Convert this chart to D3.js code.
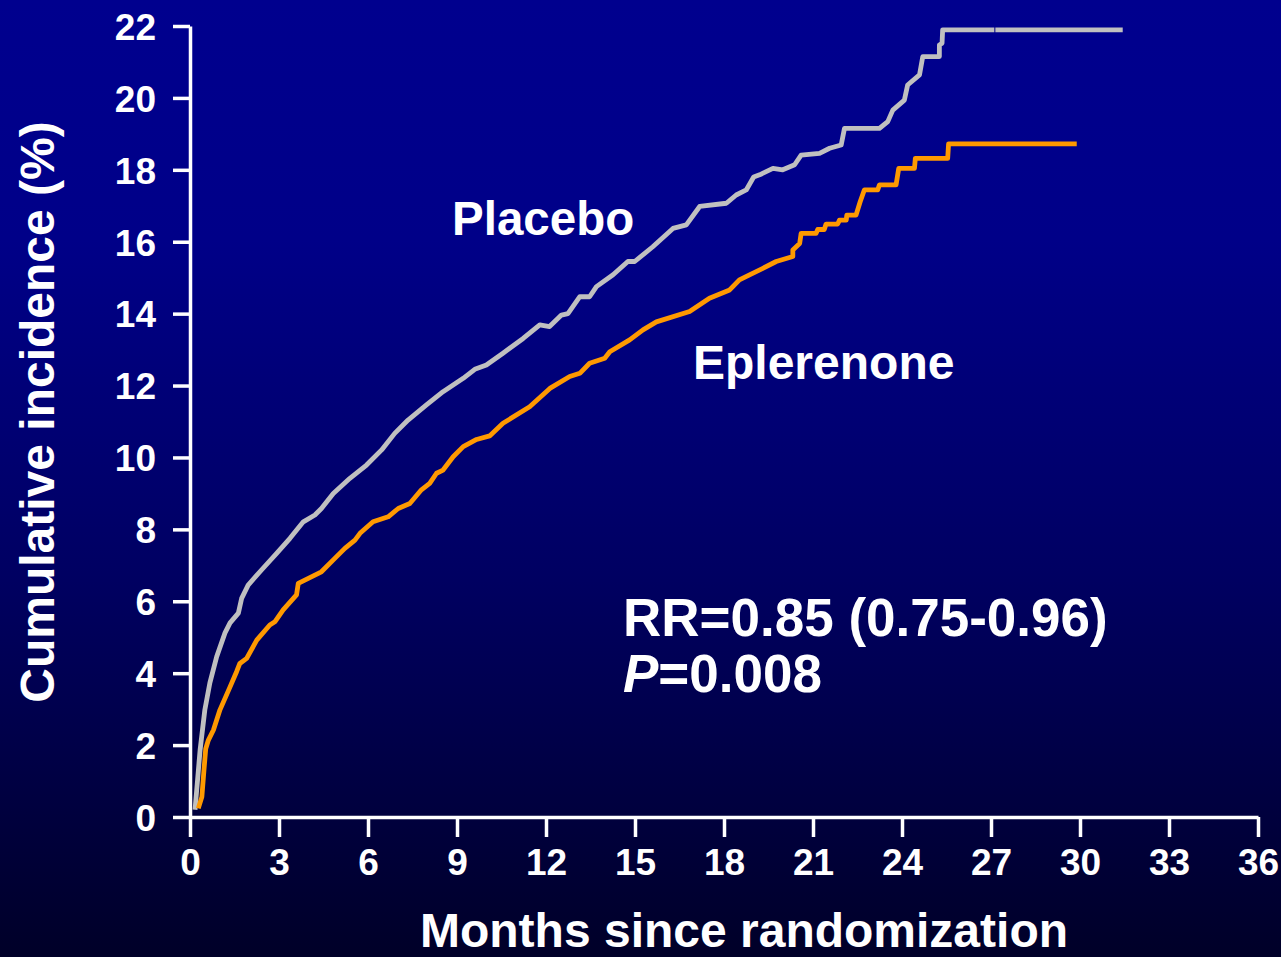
<!DOCTYPE html>
<html>
<head>
<meta charset="utf-8">
<script src="https://cdn.jsdelivr.net/npm/d3@7"></script>
<style>
  html, body { margin: 0; padding: 0; background: #000050; overflow: hidden; }
  svg { display: block; }
  text { font-family: "Liberation Sans", Arial, sans-serif; font-weight: bold; fill: #ffffff; }
</style>
</head>
<body>
<svg id="chart" width="1281" height="957"></svg>
<script>
// ---- Data (months, cumulative incidence %) ----
const placebo = [
  [0.17,0.2],[0.34,1.86],[0.5,2.98],[0.67,3.73],[0.9,4.46],[1.18,5.12],[1.35,5.4],[1.63,5.67],
  [1.74,6.08],[1.96,6.45],[2.41,6.87],[2.92,7.33],[3.37,7.75],[3.82,8.21],[4.21,8.4],[4.43,8.58],
  [4.83,9.0],[5.39,9.42],[5.95,9.79],[6.46,10.21],[6.9,10.67],[7.35,11.04],[7.97,11.46],[8.53,11.83],
  [9.21,12.2],[9.6,12.45],[9.99,12.57],[10.55,12.9],[11.23,13.31],[11.79,13.69],[12.12,13.64],
  [12.52,13.96],[12.74,14.0],[13.14,14.47],[13.47,14.47],[13.7,14.75],[14.26,15.08],[14.76,15.45],
  [14.99,15.45],[15.6,15.86],[16.28,16.37],[16.73,16.47],[17.18,16.98],[18.08,17.07],[18.41,17.3],
  [18.75,17.44],[19.0,17.8],[19.2,17.86],[19.65,18.04],[19.98,18.0],[20.38,18.14],[20.6,18.41],
  [21.22,18.46],[21.56,18.6],[21.95,18.69],[22.06,19.15],[23.24,19.15],[23.52,19.34],[23.69,19.66],
  [24.08,19.94],[24.19,20.36],[24.59,20.64],[24.7,21.15],[25.26,21.15],[25.26,21.47],[25.35,21.52],
  [25.37,21.89],[31.44,21.89]
];
const eplerenone = [
  [0.28,0.24],[0.4,0.56],[0.47,1.3],[0.53,1.9],[0.62,2.14],[0.79,2.42],[1.01,2.98],[1.35,3.62],
  [1.57,4.04],[1.68,4.27],[1.91,4.41],[2.25,4.92],[2.69,5.34],[2.86,5.43],[3.14,5.76],[3.59,6.18],
  [3.65,6.5],[3.87,6.59],[4.43,6.82],[4.83,7.15],[5.22,7.47],[5.56,7.7],[5.73,7.89],[6.17,8.21],
  [6.68,8.35],[7.02,8.58],[7.41,8.72],[7.8,9.1],[8.08,9.28],[8.31,9.56],[8.53,9.65],[8.87,10.02],
  [9.21,10.3],[9.66,10.5],[10.1,10.6],[10.55,10.95],[11.45,11.41],[12.13,11.92],[12.8,12.25],
  [13.14,12.34],[13.47,12.62],[13.98,12.76],[14.15,12.94],[14.82,13.27],[15.27,13.55],[15.72,13.77],
  [16.84,14.06],[17.51,14.43],[18.19,14.66],[18.52,14.94],[18.86,15.08],[19.31,15.26],[19.76,15.45],
  [20.32,15.59],[20.32,15.77],[20.55,15.95],[20.6,16.23],[21.1,16.23],[21.16,16.34],[21.38,16.34],
  [21.44,16.49],[21.83,16.49],[21.89,16.6],[22.12,16.6],[22.14,16.74],[22.45,16.74],[22.59,17.11],
  [22.73,17.44],[23.18,17.44],[23.24,17.58],[23.8,17.58],[23.89,18.04],[24.42,18.04],[24.45,18.32],
  [25.54,18.32],[25.57,18.72],[29.89,18.72]
];
const placeboCensor = [27.13];
const xTicks = [0,3,6,9,12,15,18,21,24,27,30,33,36];
const yTicks = [0,2,4,6,8,10,12,14,16,18,20,22];
const xTitle = "Months since randomization";
const yTitle = "Cumulative incidence (%)";

// ---- Layout ----
const svg = d3.select("#chart");
const W = 1281, H = 957;

const defs = svg.append("defs");
const grad = defs.append("linearGradient").attr("id","bg").attr("x1",0).attr("y1",0).attr("x2",0).attr("y2",1);
grad.append("stop").attr("offset","0").attr("stop-color","#00008e");
grad.append("stop").attr("offset","0.25").attr("stop-color","#000088");
grad.append("stop").attr("offset","0.6").attr("stop-color","#000062");
grad.append("stop").attr("offset","1").attr("stop-color","#000028");
svg.append("rect").attr("width",W).attr("height",H).attr("fill","url(#bg)");

const x = d3.scaleLinear().domain([0,36]).range([190,1258]);
const y = d3.scaleLinear().domain([0,22]).range([817,26]);

// Axes
const yAxis = d3.axisLeft(y).tickValues(yTicks).tickSize(17).tickSizeOuter(0).tickPadding(17);
const xAxis = d3.axisBottom(x).tickValues(xTicks).tickSize(20).tickSizeOuter(0).tickPadding(10);

const gy = svg.append("g").attr("transform","translate(190,0)").call(yAxis);
const gx = svg.append("g").attr("transform","translate(0,817)").call(xAxis);

[gx, gy].forEach(g => {
  g.selectAll(".domain").attr("stroke","#fff").attr("stroke-width",3.5);
  g.selectAll(".tick line").attr("stroke","#fff").attr("stroke-width",3.5);
  g.selectAll(".tick text")
    .attr("fill","#fff")
    .style("font-family","'Liberation Sans', Arial, sans-serif")
    .style("font-weight","bold")
    .style("font-size","37px");
});
gy.selectAll(".tick text").attr("dy","0.36em");
gx.selectAll(".tick text").attr("dy","0.75em");

// Lines
const line = d3.line().x(d => x(d[0])).y(d => y(d[1]));
svg.append("path").datum(placebo).attr("d",line)
  .attr("fill","none").attr("stroke","#c0c0c0").attr("stroke-width",4.8)
  .attr("stroke-linejoin","round").attr("stroke-linecap","butt");
svg.append("path").datum(eplerenone).attr("d",line)
  .attr("fill","none").attr("stroke","#ff9900").attr("stroke-width",4.8)
  .attr("stroke-linejoin","round").attr("stroke-linecap","butt");

// censor tick on placebo plateau
svg.selectAll(".censor").data(placeboCensor).enter().append("line")
  .attr("x1", d => x(d)).attr("x2", d => x(d))
  .attr("y1", y(21.89) - 3).attr("y2", y(21.89) + 3)
  .attr("stroke","#000088").attr("stroke-width",1);

// Titles
svg.append("text").attr("x",744).attr("y",947).attr("text-anchor","middle")
  .style("font-size","48px").text(xTitle);
svg.append("text").attr("transform","translate(54,412) rotate(-90)").attr("text-anchor","middle")
  .style("font-size","48px").text(yTitle);

// Annotations
svg.append("text").attr("x",452).attr("y",235).style("font-size","47.5px").text("Placebo");
svg.append("text").attr("x",693).attr("y",379).style("font-size","48px").text("Eplerenone");
svg.append("text").attr("x",623).attr("y",636).style("font-size","53px").text("RR=0.85 (0.75-0.96)");
const pt = svg.append("text").attr("x",623).attr("y",692).style("font-size","53px");
pt.append("tspan").style("font-style","italic").text("P");
pt.append("tspan").text("=0.008");
</script>
</body>
</html>
